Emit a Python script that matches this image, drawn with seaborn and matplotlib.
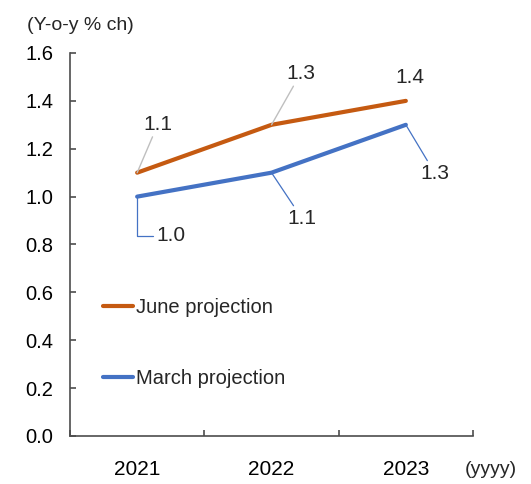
import matplotlib
matplotlib.use("Agg")
import matplotlib.pyplot as plt
import pandas as pd
import seaborn as sns

years = ["2021", "2022", "2023"]
june_projection = [1.1, 1.3, 1.4]
march_projection = [1.0, 1.1, 1.3]
series_names = ["June projection", "March projection"]
y_ticks = [0.0, 0.2, 0.4, 0.6, 0.8, 1.0, 1.2, 1.4, 1.6]

ORANGE = "#C55A11"
BLUE = "#4472C4"
AXIS_GREY = "#4D4D4D"

sns.set_theme(style="white")
plt.rcParams["font.family"] = ["Liberation Sans Narrow", "Liberation Sans", "DejaVu Sans"]

df = pd.DataFrame({
    "year": years * 2,
    "value": june_projection + march_projection,
    "series": [series_names[0]] * len(years) + [series_names[1]] * len(years),
})

fig = plt.figure(figsize=(5.31, 4.84), dpi=100)
ax = fig.add_axes([0.1318, 0.0992, 0.759, 0.7913])

sns.lineplot(data=df, x="year", y="value", hue="series", hue_order=series_names,
             palette=[ORANGE, BLUE], linewidth=3, ax=ax, sort=False)

ax.set_xlim(-0.5, 2.5)
ax.set_ylim(0, 1.6)
ax.set_yticks(y_ticks)
ax.set_yticklabels([f"{v:.1f}" for v in y_ticks])
ax.set_xticks([0, 1, 2])
ax.set_xticklabels(years)
ax.set_xticks([-0.5, 0.5, 1.5, 2.5], minor=True)
ax.set_xlabel("")
ax.set_ylabel("")

for side in ("top", "right"):
    ax.spines[side].set_visible(False)
for side in ("left", "bottom"):
    ax.spines[side].set_color(AXIS_GREY)
    ax.spines[side].set_linewidth(1.2)

ax.tick_params(axis="y", direction="in", length=4.5, width=1.2, color=AXIS_GREY,
               pad=12, labelsize=14.5, labelcolor="black", left=True)
ax.tick_params(axis="x", which="major", length=0, pad=17, labelsize=15, labelcolor="black")
ax.tick_params(axis="x", which="minor", direction="in", length=4.5, width=1.2,
               color=AXIS_GREY, bottom=True)

# value labels with leader lines
label_style = dict(textcoords="offset points", ha="center", va="center", fontsize=15)
june_offsets = [(15, 35), (21, 37), (3, 17)]
for i, (yr, v) in enumerate(zip(range(len(years)), june_projection)):
    arrow = dict(arrowstyle="-", color="#BFBFBF", lw=1.0, shrinkA=0, shrinkB=0) if i < 2 else None
    ax.annotate(f"{v:.1f}", xy=(yr, v), xytext=june_offsets[i], arrowprops=arrow, **label_style)

march_offsets = [(24, -28), (22, -33), (21, -35)]
for i, (yr, v) in enumerate(zip(range(len(years)), march_projection)):
    arrow = dict(arrowstyle="-", color=BLUE, lw=0.9, shrinkA=0, shrinkB=0)
    if i == 0:
        arrow["connectionstyle"] = "angle,angleA=0,angleB=90,rad=0"
    ax.annotate(f"{v:.1f}", xy=(yr, v), xytext=march_offsets[i], arrowprops=arrow, **label_style)

leg = ax.legend(loc="center left", bbox_to_anchor=(0.082, 0.243), frameon=False,
                fontsize=14.5, labelspacing=2.55, handlelength=1.5, handletextpad=0.15,
                borderpad=0, borderaxespad=0)
for line in leg.get_lines():
    line.set_linewidth(3)

fig.text(27 / 531, 1 - 25 / 484, "(Y-o-y % ch)", fontsize=14, va="center", ha="left")
fig.text(465 / 531, 1 - 470 / 484, "(yyyy)", fontsize=14, va="center", ha="left")

fig.savefig("out.png", dpi=100, facecolor="white")
